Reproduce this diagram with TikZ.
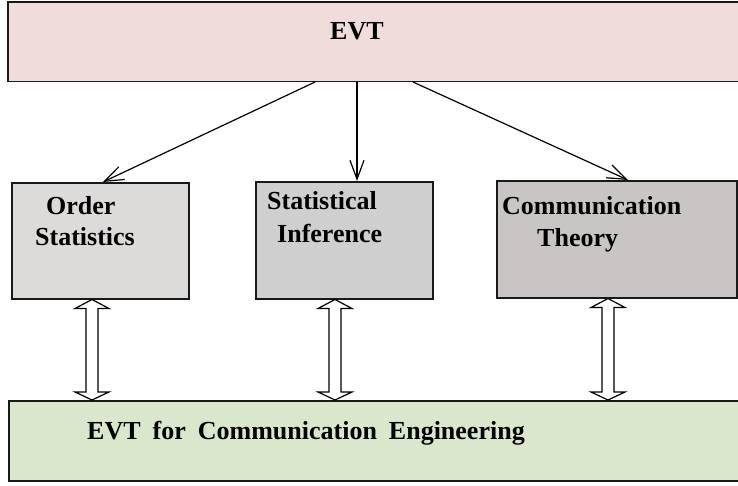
\documentclass[tikz,border=0pt]{standalone}
\usepackage{fontspec}
\setmainfont{Liberation Serif}
\usetikzlibrary{arrows.meta,calc}
\definecolor{pinkfill}{RGB}{240,220,219}
\definecolor{grayA}{RGB}{221,218,218}
\definecolor{grayB}{RGB}{208,207,207}
\definecolor{grayC}{RGB}{201,197,197}
\definecolor{greenfill}{RGB}{218,231,204}
\definecolor{edge}{RGB}{25,25,25}
\tikzset{
  boxnode/.style={draw=edge, line width=1.5pt, anchor=north west, inner sep=0pt, rectangle},
  lbl/.style={anchor=base west, inner sep=0pt, font=\fontsize{26}{24}\selectfont\bfseries},
  arr/.style={line width=1.2pt, -{Straight Barb[length=19pt,width=14pt,line width=1.2pt]}},
  dblarr/.style={draw=black, fill=white, line width=1.2pt, line join=miter}
}
\newcommand\dblarrow[2]{%
  \path[dblarr] let \p1=(#1), \p2=(#2) in
    (\x1,\y1) -- (\x1+17pt,\y1-9pt) -- (\x1+6pt,\y1-9pt) -- (\x1+6pt,\y2+8pt)
    -- (\x1+17pt,\y2+8pt) -- (\x1,\y2) -- (\x1-17pt,\y2+8pt) -- (\x1-6pt,\y2+8pt)
    -- (\x1-6pt,\y1-9pt) -- (\x1-17pt,\y1-9pt) -- cycle;}
\begin{document}
\begin{tikzpicture}[x=1pt,y=-1pt]
\useasboundingbox (0,0) rectangle (738,485);
\clip (0,0) rectangle (738,485);
% boxes
\node[boxnode, fill=pinkfill, minimum width=745pt, minimum height=79.5pt] (evt) at (7,1) {};
\node[boxnode, fill=greenfill, minimum width=745pt, minimum height=80pt] (bot) at (8,400) {};
\node[boxnode, fill=grayA, minimum width=177pt, minimum height=116pt] (os) at (11,182) {};
\node[boxnode, fill=grayB, minimum width=177pt, minimum height=117pt] (si) at (255,181) {};
\node[boxnode, fill=grayC, minimum width=240pt, minimum height=117pt] (ct) at (496,180) {};
% labels
\node[lbl] (evtlbl) at (330,39) {EVT};
\node[lbl] (os1) at (46,214) {Order};
\node[lbl] (os2) at (35,245) {Statistics};
\node[lbl] (si1) at (267,209) {Statistical};
\node[lbl] (si2) at (277,242) {Inference};
\node[lbl] (ct1) at (502,214) {Communication};
\node[lbl] (ct2) at (537,246) {Theory};
\node[lbl] (botlbl) at (87,439) {EVT\hspace{12pt}for\hspace{12pt}Communication\hspace{12pt}Engineering};
% arrows
\draw[arr] ([xshift=308pt]evt.south west) -- ([xshift=92pt]os.north west);
\draw[arr] ([xshift=350pt]evt.south west) -- ([xshift=102pt]si.north west);
\draw[arr] ([xshift=406pt]evt.south west) -- ([xshift=132pt]ct.north west);
% double arrows
\coordinate (d1t) at ([xshift=81pt]os.south west);
\coordinate (d1b) at ([xshift=84pt]bot.north west);
\coordinate (d2t) at ([xshift=80pt]si.south west);
\coordinate (d2b) at ([xshift=327pt]bot.north west);
\coordinate (d3t) at ([xshift=112pt]ct.south west);
\coordinate (d3b) at ([xshift=600pt]bot.north west);
\dblarrow{d1t}{d1b}
\dblarrow{d2t}{d2b}
\dblarrow{d3t}{d3b}
\end{tikzpicture}
\end{document}
